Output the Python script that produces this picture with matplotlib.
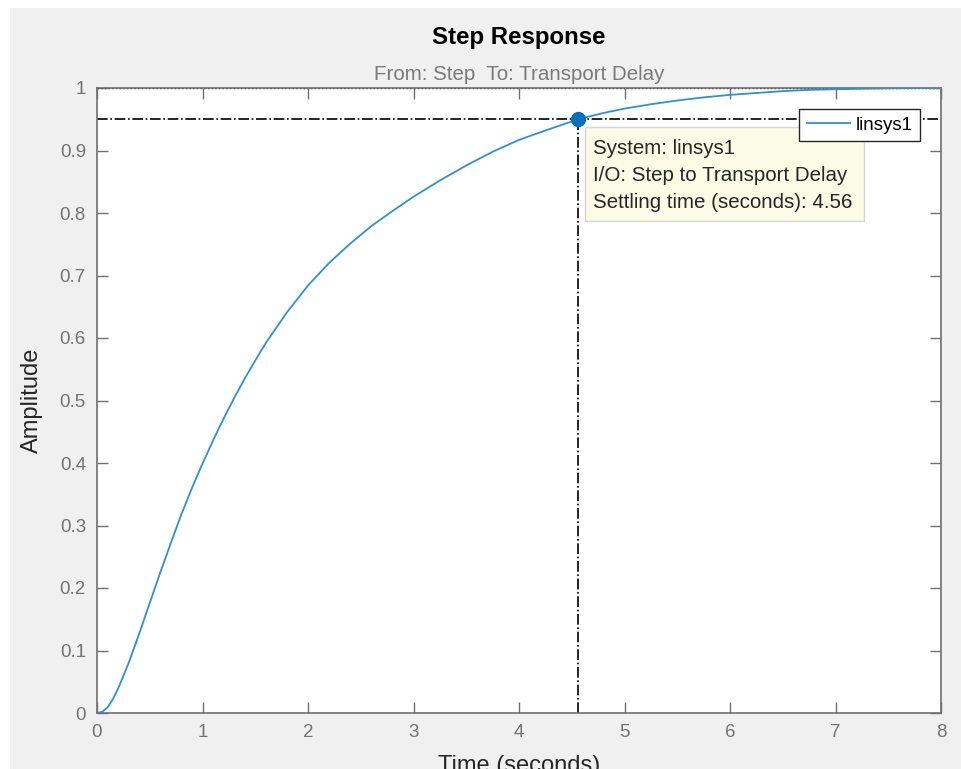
import matplotlib.pyplot as plt
from matplotlib.patches import Rectangle

plt.rcParams['font.family'] = ['Liberation Sans', 'DejaVu Sans']

time_s = [0, 0.05, 0.1, 0.15, 0.2, 0.3, 0.4, 0.5, 0.6, 0.7, 0.8, 0.9, 1.0, 1.1,
          1.2, 1.3, 1.4, 1.5, 1.6, 1.8, 2.0, 2.2, 2.4, 2.6, 2.8, 3.0, 3.25, 3.5,
          3.75, 4.0, 4.25, 4.56, 4.8, 5.0, 5.25, 5.5, 5.75, 6.0, 6.25, 6.5, 6.75,
          7.0, 7.5, 8.0]
amplitude = [0, 0.002, 0.009, 0.022, 0.039, 0.080, 0.127, 0.176, 0.225, 0.272,
             0.318, 0.360, 0.399, 0.436, 0.471, 0.504, 0.535, 0.564, 0.592, 0.641,
             0.684, 0.720, 0.751, 0.779, 0.803, 0.826, 0.852, 0.876, 0.898, 0.917,
             0.932, 0.950, 0.960, 0.967, 0.974, 0.980, 0.985, 0.989, 0.992, 0.995,
             0.997, 0.998, 0.9995, 1.0]
settling_time = 4.56
settling_level = 0.95
steady_state = 1.0
x_ticks = [0, 1, 2, 3, 4, 5, 6, 7, 8]
y_ticks = [0, 0.1, 0.2, 0.3, 0.4, 0.5, 0.6, 0.7, 0.8, 0.9, 1]
tip_lines = ['System: linsys1', 'I/O: Step to Transport Delay',
             'Settling time (seconds): 4.56']

fig = plt.figure(figsize=(9.61, 7.69), dpi=100, facecolor='white')
fig.patches.append(Rectangle((10 / 961, 0), 1, 1 - 8 / 769, transform=fig.transFigure,
                             facecolor='#f0f0f0', edgecolor='none', zorder=-10))

ax = fig.add_axes([97 / 961, 56 / 769, 844 / 961, 625 / 769])
ax.set_facecolor('white')

line_color = '#3190d3'
ax.plot(time_s, amplitude, color=line_color, lw=1.3, label='linsys1', zorder=3)

# Einschwingzeit-Markierungen
ax.axhline(settling_level, color='black', lw=1.2, ls='-.', zorder=2)
ax.plot([settling_time, settling_time], [0, settling_level], color='black',
        lw=1.2, ls='-.', zorder=2)
ax.axhline(steady_state, color='black', lw=1.0, ls=':', zorder=2)
ax.plot([settling_time], [settling_level], 'o', color='#0072BD', ms=10, zorder=5)

ax.set_xlim(0, 8)
ax.set_ylim(0, 1)
ax.set_xticks(x_ticks)
ax.set_yticks(y_ticks)
ax.set_xticklabels([str(t) for t in x_ticks])
ax.set_yticklabels(['0' if v == 0 else ('1' if v == 1 else f'{v:.1f}') for v in y_ticks])
ax.tick_params(direction='in', length=8, width=1, color='#707070', labelcolor='#737373',
               labelsize=13.5, top=True, right=True, pad=8)
for sp in ax.spines.values():
    sp.set_color('#707070')
    sp.set_linewidth(1.2)

ax.set_ylabel('Amplitude', fontsize=17, color='#262626', labelpad=12)
ax.set_xlabel('Time (seconds)', fontsize=17, color='#262626', labelpad=10)

ax.text(0.5, 1 + 51 / 625, 'Step Response', transform=ax.transAxes, ha='center',
        va='center', fontsize=17.3, fontweight='bold', color='black')
ax.text(0.5, 1 + 14 / 625, 'From: Step  To: Transport Delay', transform=ax.transAxes,
        ha='center', va='center', fontsize=14.8, color='#7a7a7a')

# Datentipp
ax.add_patch(Rectangle((0.578, 0.787), 0.331, 0.1506, transform=ax.transAxes,
                       facecolor='#fbfbe6', edgecolor='#d6d6d6', lw=1, zorder=6))
for i, txt in enumerate(tip_lines):
    ax.text(0.5877, 0.903 - i * 0.0432, txt, transform=ax.transAxes, ha='left',
            va='center', fontsize=14.8, color='#262626', zorder=7)

leg = ax.legend(loc='upper right', bbox_to_anchor=(0.975, 0.9664), fontsize=13.5,
                frameon=True, fancybox=False, edgecolor='#262626', framealpha=1,
                handlelength=2.3, borderpad=0.4, handletextpad=0.3, borderaxespad=0)
leg.get_frame().set_linewidth(1.0)
leg.set_zorder(8)

fig.savefig('out.png', dpi=100, facecolor=fig.get_facecolor())
